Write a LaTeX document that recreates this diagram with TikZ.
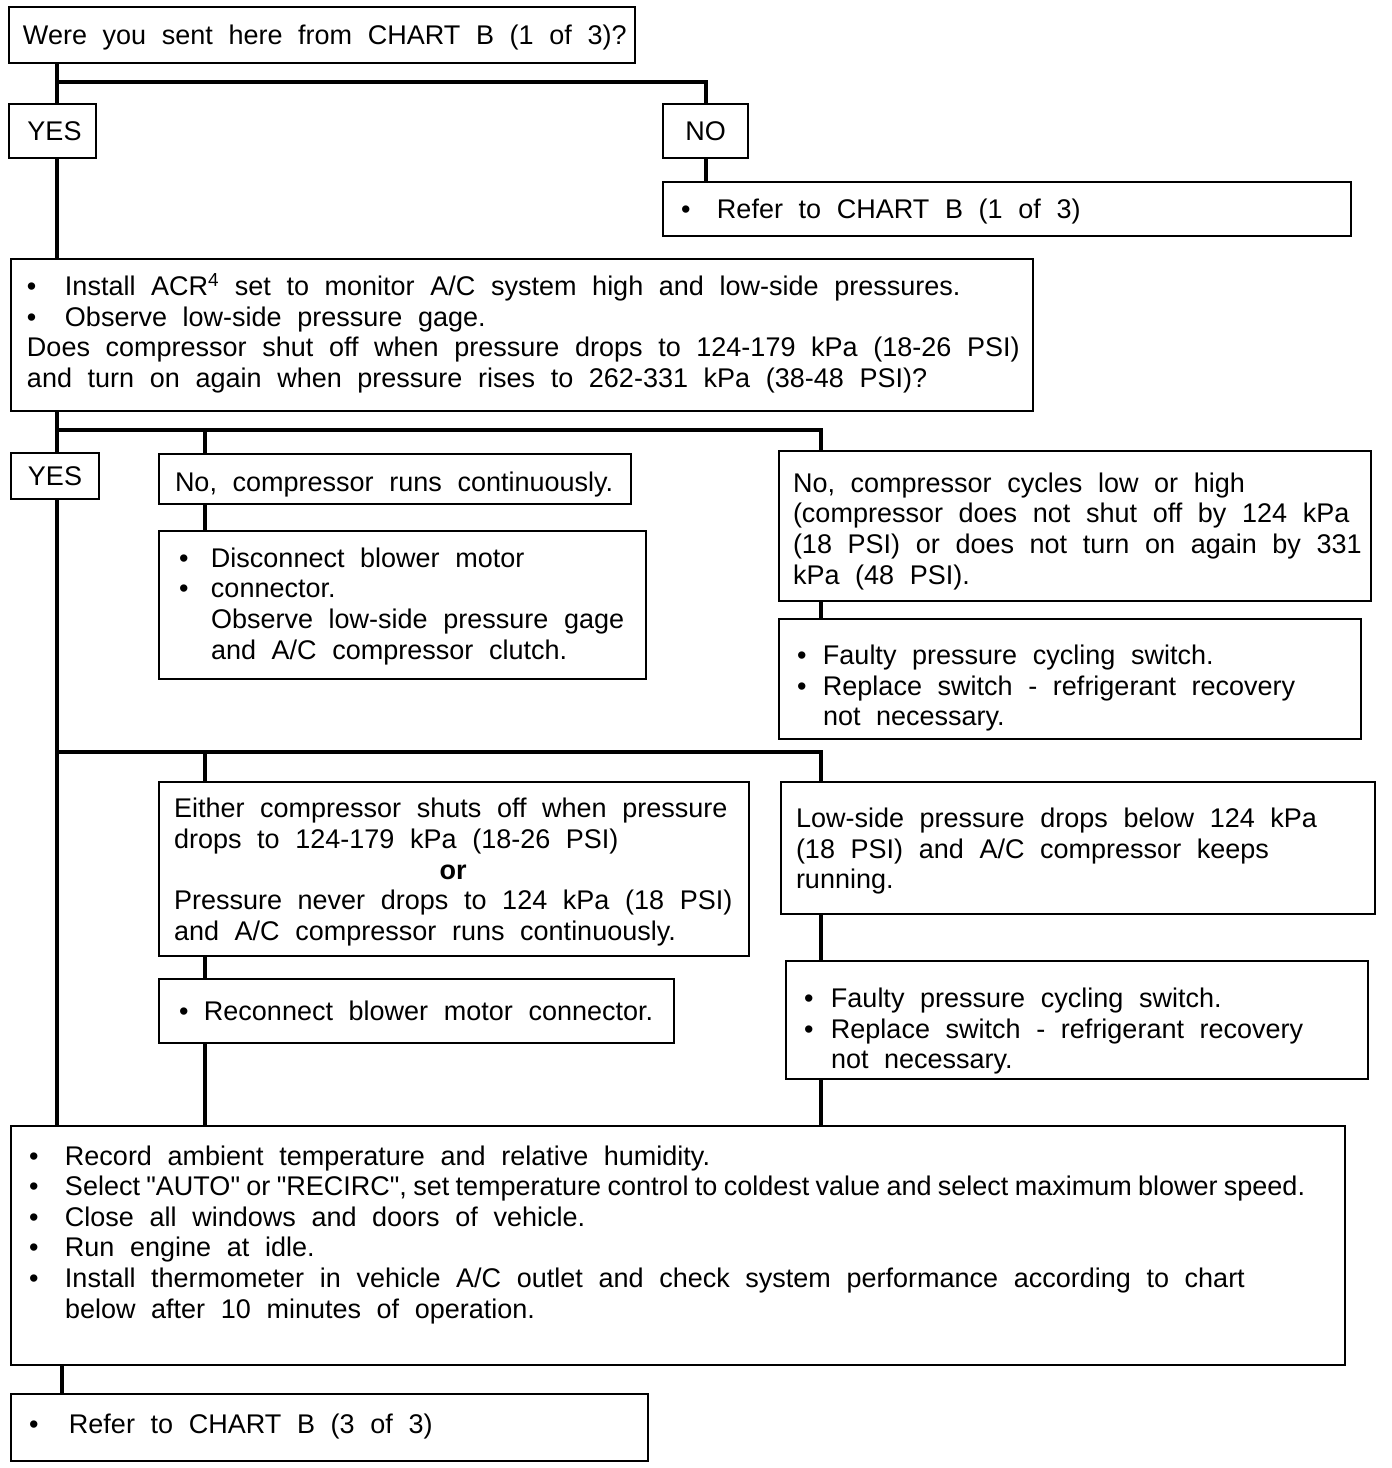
\documentclass[tikz,border=0pt]{standalone}
\usepackage{fontspec}
\setmainfont{Liberation Sans}
\usepackage{tikz}
\usetikzlibrary{calc}
\newcommand{\chartfont}{\fontsize{27}{30.6}\selectfont}
\newcommand{\bul}[1]{\makebox[#1pt][l]{\textbullet}}
\newcommand{\blk}[2][0pt]{\raisebox{-#1}[\height][\depth]{\spaceskip=0.58em\relax\begin{tabular}{@{}l@{}}#2\end{tabular}}}
\tikzset{
  box/.style ={rectangle, draw=black, line width=2pt, anchor=north west,
               inner ysep=0pt, inner xsep=16pt, align=left},
  tag/.style ={rectangle, draw=black, line width=2pt, anchor=north west,
               inner sep=0pt, align=center},
  wire/.style={draw=black, line width=4pt}
}
\begin{document}
\begin{tikzpicture}[x=1pt, y=-1pt, font=\chartfont]
\useasboundingbox (0,0) rectangle (1392,1468);
\node[box, inner xsep=14pt, text width=598pt, minimum width=626pt, minimum height=56pt] (sent) at (8,6)
  {\blk[3pt]{Were you sent here from CHART B (1 of 3)?}};
\node[tag, minimum width=87pt, minimum height=54pt] (yes1) at (8,103) {\hspace*{4pt}YES};
\node[tag, minimum width=85pt, minimum height=54pt] (no) at (662,103) {NO};
\node[box, inner xsep=18pt, text width=652pt, minimum width=688pt, minimum height=54pt] (ref1) at (662,181)
  {\blk[3pt]{\bul{36}Refer to CHART B (1 of 3)}};
\node[box, text width=990pt, minimum width=1022pt, minimum height=152pt] (acr) at (10,258)
  {\blk{\bul{38}Install ACR\textsuperscript{4} set to monitor A/C system high and low-side pressures.\\
        \bul{38}Observe low-side pressure gage.\\
        Does compressor shut off when pressure drops to 124-179 kPa (18-26 PSI)\\
        and turn on again when pressure rises to 262-331 kPa (38-48 PSI)?}};
\node[tag, minimum width=88pt, minimum height=46pt] (yes2) at (10,452) {YES};
\node[box, text width=440pt, minimum width=472pt, minimum height=50pt] (norun) at (158,453)
  {\blk[6pt]{No, compressor runs continuously.}};
\node[box, inner xsep=20pt, text width=447pt, minimum width=487pt, minimum height=148pt] (disc) at (158,530)
  {\blk[2pt]{\bul{32}Disconnect blower motor\\
        \bul{32}connector.\\
        \hspace*{32pt}Observe low-side pressure gage\\
        \hspace*{32pt}and A/C compressor clutch.}};
\node[box, inner xsep=14pt, text width=564pt, minimum width=592pt, minimum height=150pt] (cyc) at (778,450)
  {\blk[6pt]{No, compressor cycles low or high\\
        (compressor does not shut off by 124 kPa\\
        (18 PSI) or does not turn on again by 331\\
        kPa (48 PSI).}};
\node[box, inner xsep=18pt, text width=546pt, minimum width=582pt, minimum height=120pt] (fault1) at (778,618)
  {\blk[10pt]{\bul{26}Faulty pressure cycling switch.\\
        \bul{26}Replace switch - refrigerant recovery\\
        \hspace*{26pt}not necessary.}};
\node[box, inner xsep=15pt, text width=560pt, minimum width=590pt, minimum height=174pt] (either) at (158,781)
  {\blk[4pt]{Either compressor shuts off when pressure\\
        drops to 124-179 kPa (18-26 PSI)\\
        \multicolumn{1}{@{}c@{}}{\textbf{or}}\\
        Pressure never drops to 124 kPa (18 PSI)\\
        and A/C compressor runs continuously.}};
\node[box, inner xsep=20pt, text width=475pt, minimum width=515pt, minimum height=64pt] (recon) at (158,978)
  {\blk[3pt]{\bul{25}Reconnect blower motor connector.}};
\node[box, inner xsep=15pt, text width=564pt, minimum width=594pt, minimum height=132pt] (low) at (780,781)
  {\blk[4pt]{Low-side pressure drops below 124 kPa\\
        (18 PSI) and A/C compressor keeps\\
        running.}};
\node[box, inner xsep=18pt, text width=546pt, minimum width=582pt, minimum height=118pt] (fault2) at (785,960)
  {\blk[12pt]{\bul{27}Faulty pressure cycling switch.\\
        \bul{27}Replace switch - refrigerant recovery\\
        \hspace*{27pt}not necessary.}};
\node[box, inner xsep=18pt, text width=1298pt, minimum width=1334pt, minimum height=239pt] (rec) at (10,1125)
  {\blk[-10pt]{\bul{36}Record ambient temperature and relative humidity.\\
        \bul{36}{\spaceskip=0.235em\relax Select \textquotedbl AUTO\textquotedbl\ or \textquotedbl RECIRC\textquotedbl, set temperature control to coldest value and select maximum blower speed.}\\
        \bul{36}Close all windows and doors of vehicle.\\
        \bul{36}Run engine at idle.\\
        \bul{36}Install thermometer in vehicle A/C outlet and check system performance according to chart\\
        \hspace*{36pt}below after 10 minutes of operation.}};
\node[box, inner xsep=18pt, text width=601pt, minimum width=637pt, minimum height=67pt] (ref3) at (10,1393)
  {\blk{\bul{40}Refer to CHART B (3 of 3)}};
\coordinate (j1) at (57,82);
\coordinate (j2) at (57,430);
\coordinate (j3) at (57,752);
\coordinate (xb) at (205,0);
\coordinate (xd) at (821,0);
\coordinate (xe) at (62,0);
\draw[wire] (sent.south -| j1) -- (yes1.north -| j1);
\draw[wire] (j1) -| (no.north);
\draw[wire] (no.south) -- (no.south |- ref1.north);
\draw[wire] (yes1.south -| j1) -- (acr.north -| j1);
\draw[wire] (acr.south -| j2) -- (yes2.north -| j2);
\draw[wire] (j2) -| (cyc.north -| xd);
\draw[wire] (j2 -| xb) -- (norun.north -| xb);
\draw[wire] (norun.south -| xb) -- (disc.north -| xb);
\draw[wire] (cyc.south -| xd) -- (fault1.north -| xd);
\draw[wire] (yes2.south -| j2) -- (rec.north -| j2);
\draw[wire] (j3) -| (low.north -| xd);
\draw[wire] (j3 -| xb) -- (either.north -| xb);
\draw[wire] (either.south -| xb) -- (recon.north -| xb);
\draw[wire] (recon.south -| xb) -- (rec.north -| xb);
\draw[wire] (low.south -| xd) -- (fault2.north -| xd);
\draw[wire] (fault2.south -| xd) -- (rec.north -| xd);
\draw[wire] (rec.south -| xe) -- (ref3.north -| xe);
\end{tikzpicture}
\end{document}
